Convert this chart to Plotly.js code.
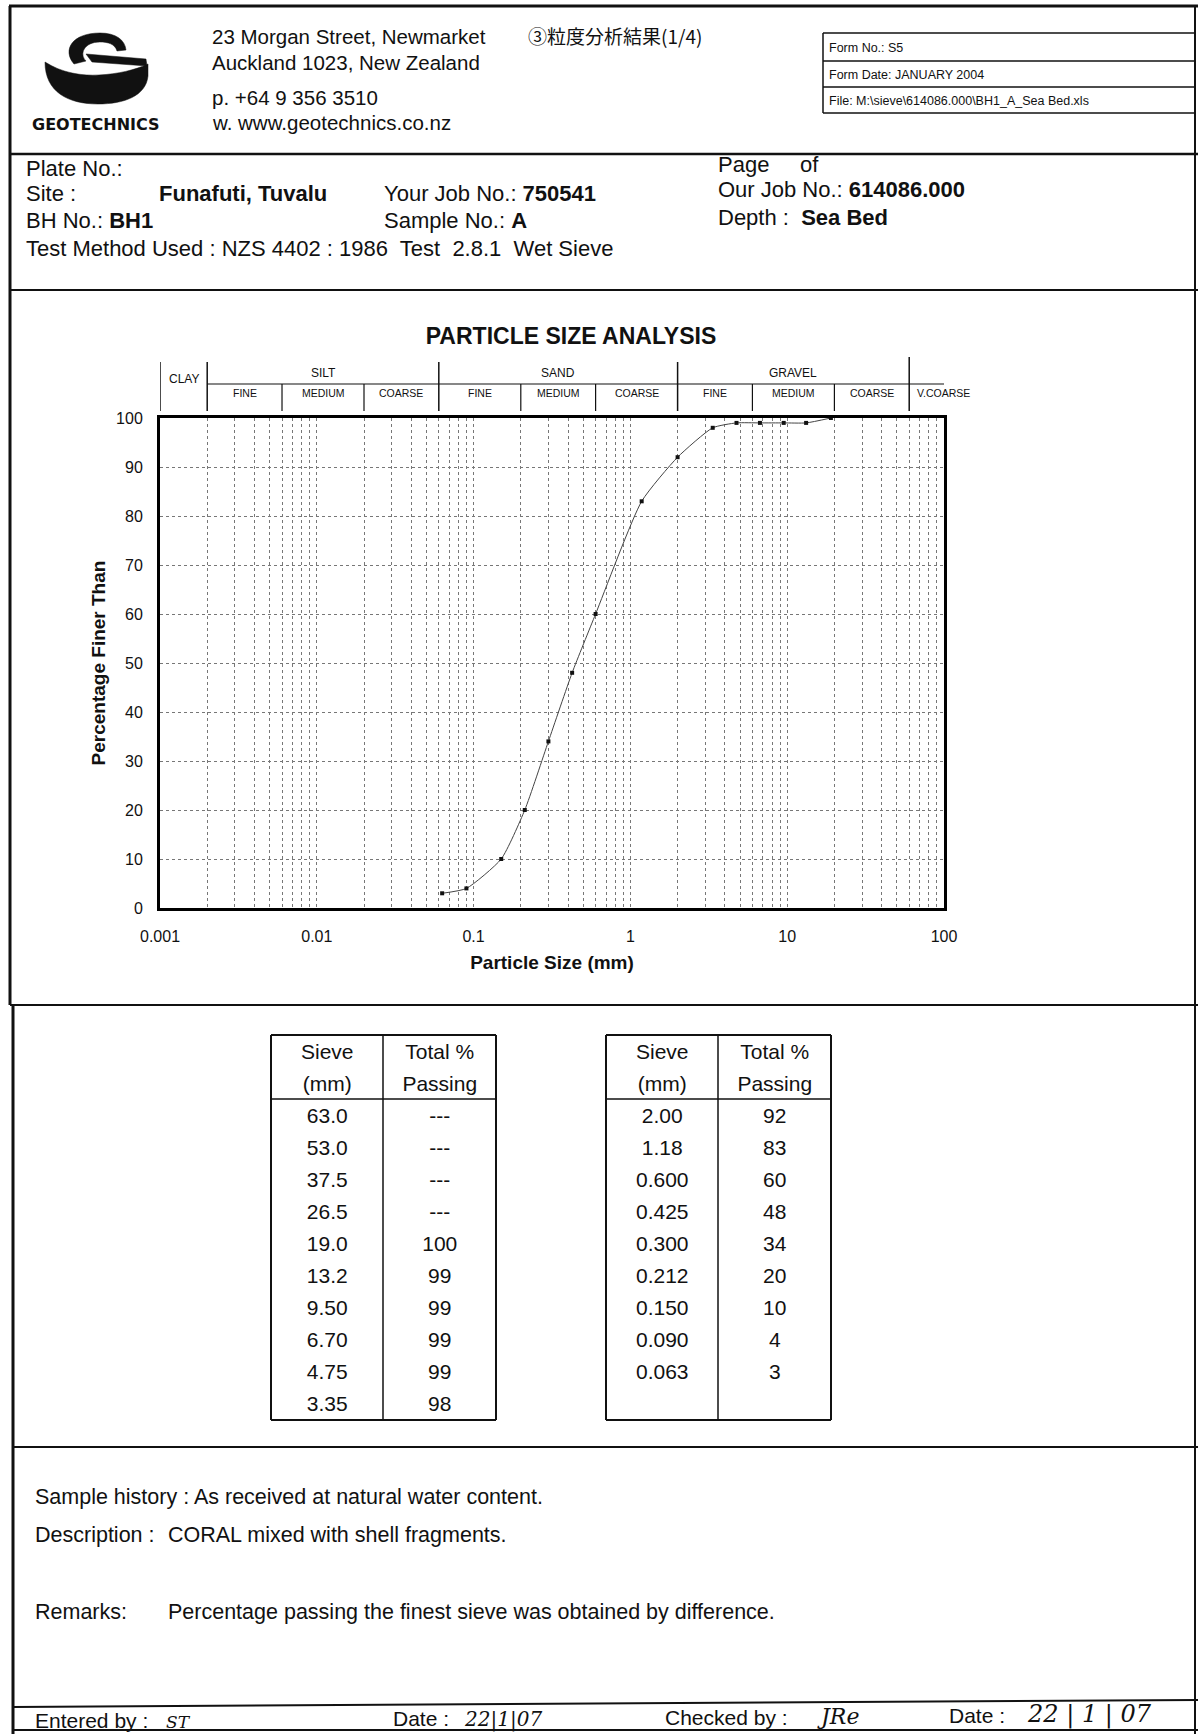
<!DOCTYPE html>
<html>
<head>
<meta charset="utf-8">
<script src="https://cdn.plot.ly/plotly-3.0.1.min.js"></script>
<style>
html,body{margin:0;padding:0;background:#fff;}
#chart{width:1198px;height:1734px;}
</style>
</head>
<body>
<div id="chart"></div>
<script>
// ---------------- DATA ----------------
const sieveLeft  = ['63.0','53.0','37.5','26.5','19.0','13.2','9.50','6.70','4.75','3.35'];
const passLeft   = ['---','---','---','---','100','99','99','99','99','98'];
const sieveRight = ['2.00','1.18','0.600','0.425','0.300','0.212','0.150','0.090','0.063'];
const passRight  = ['92','83','60','48','34','20','10','4','3'];

const xTickLabels = ['0.001','0.01','0.1','1','10','100'];
const yTickValues = [0,10,20,30,40,50,60,70,80,90,100];

const mainZoneNames = ['CLAY','SILT','SAND','GRAVEL'];
const mainZoneEdges = [0.001,0.002,0.06,2,60];
const subZoneNames  = ['FINE','MEDIUM','COARSE','FINE','MEDIUM','COARSE','FINE','MEDIUM','COARSE','V.COARSE'];
const subZoneEdges  = [0.002,0.006,0.02,0.06,0.2,0.6,2,6,20,60,200];

// ---------------- HELPERS ----------------
const W = 1198, H = 1734;
const FONT = 'Liberation Sans, Arial, Helvetica, sans-serif';
const px = x => x / W;
const py = y => 1 - y / H;
const INK = '#111';

// curve values derived from the tables
const curveX = [], curveY = [];
sieveLeft.concat(sieveRight).forEach((s, i) => {
  const p = passLeft.concat(passRight)[i];
  if (p !== '---') { curveX.push(parseFloat(s)); curveY.push(parseFloat(p)); }
});

// log-axis gridline positions (ticks) with labels only on decades
const tickVals = [], tickText = [];
for (let k = -3; k <= 1; k++) {
  for (let d = 1; d <= 9; d++) {
    tickVals.push(d * Math.pow(10, k));
    tickText.push(d === 1 ? xTickLabels[k + 3] : '');
  }
}
tickVals.push(100); tickText.push(xTickLabels[5]);

const shapes = [];
function hLine(x0, x1, y, w, y1) {
  shapes.push({type:'line', xref:'paper', yref:'paper', x0:px(x0), x1:px(x1), y0:py(y), y1:py(y1 === undefined ? y : y1),
    line:{color:INK, width:w}});
}
function vLine(x, y0, y1, w) {
  shapes.push({type:'line', xref:'paper', yref:'paper', x0:px(x), x1:px(x), y0:py(y0), y1:py(y1),
    line:{color:INK, width:w}});
}
function pathPx(s) {
  return s.replace(/(-?[\d.]+),(-?[\d.]+)/g, (m, a, b) => px(+a).toFixed(5) + ',' + py(+b).toFixed(5));
}
function blob(d) {
  shapes.push({type:'path', xref:'paper', yref:'paper', path:pathPx(d), fillcolor:'#111', line:{color:'#111', width:0.5}});
}

const annotations = [];
function T(x, y, text, o) {
  o = o || {};
  annotations.push({xref:'paper', yref:'paper', x:px(x), y:py(y), text:text, showarrow:false,
    xanchor:o.xa || 'left', yanchor:'middle',
    font:{family:o.family || FONT, size:o.size || 22, color:INK, style:o.style || 'normal'}});
}

// ---------------- PAGE FRAME ----------------
hLine(9, 1198, 6, 3);
vLine(10, 6, 1005, 3);
vLine(13, 1005, 1734, 3);
vLine(1195, 6, 1734, 2);
hLine(10, 1198, 154, 2.5);
hLine(10, 1198, 290, 2);
hLine(10, 1198, 1005, 2);
hLine(13, 1198, 1447, 2);
hLine(13, 1198, 1707, 2, 1700);
hLine(13, 1198, 1730, 2);

// form box
hLine(823, 1195, 33, 1.5);
hLine(823, 1195, 61, 1.5);
hLine(823, 1195, 87, 1.5);
hLine(823, 1195, 113, 1.5);
vLine(823, 33, 113, 1.5);

// logo (approximate)
blob('M 45,62 C 62,73 82,76 99,75 C 118,74 135,70 148,64 L 148,76 C 146,96 124,104 98,104 C 68,104 45,92 45,62 Z');
blob('M 74,64 C 62,50 72,33 100,33 C 116,33 125,40 126,50 L 117,51 C 115,44 108,42 100,42 C 84,42 79,54 86,61 Z');
blob('M 86,54 L 146,59 L 147,66 L 92,62 Z');

// ---------------- TEXT: HEADER ----------------
T(96, 124, '<b>GEOTECHNICS</b>', {xa:'center', size:16, family:'DejaVu Sans, sans-serif'});
T(210, 37, '23 Morgan Street, Newmarket', {size:20.5});
T(210, 62, 'Auckland 1023, New Zealand', {size:20.5});
T(210, 97, 'p. +64 9 356 3510', {size:20.5});
T(210, 122, 'w. www.geotechnics.co.nz', {size:20.5});
T(526, 35, '③粒度分析結果(1/4)', {size:19, family:'Noto Sans CJK JP, sans-serif'});
T(827, 48, 'Form No.: S5', {size:12.5});
T(827, 75, 'Form Date: JANUARY 2004', {size:12.5});
T(827, 101, 'File: M:\\sieve\\614086.000\\BH1_A_Sea Bed.xls', {size:12.5});

T(24, 168, 'Plate No.:');
T(24, 194, 'Site :');
T(157, 194, '<b>Funafuti, Tuvalu</b>');
T(382, 194, 'Your Job No.: <b>750541</b>');
T(24, 221, 'BH No.: <b>BH1</b>');
T(382, 221, 'Sample No.: <b>A</b>');
T(24, 248, 'Test Method Used : NZS 4402 : 1986\u00a0 Test\u00a0 2.8.1\u00a0 Wet Sieve');
T(716, 164, 'Page');
T(798, 164, 'of');
T(716, 190, 'Our Job No.: <b>614086.000</b>');
T(716, 217, 'Depth :\u00a0 <b>Sea Bed</b>');

// ---------------- CLASSIFICATION BAND ----------------
const lg = Math.log10;
mainZoneEdges.forEach((e, i) => {
  shapes.push({type:'line', xref:'x', yref:'paper', x0:e, x1:e,
    y0:py(411), y1:py(e === 60 ? 357 : 362), line:{color:INK, width:1.5}});
});
subZoneEdges.forEach((e, i) => {
  if (mainZoneEdges.indexOf(e) >= 0 || e === 200) return;
  shapes.push({type:'line', xref:'x', yref:'paper', x0:e, x1:e,
    y0:py(411), y1:py(384), line:{color:INK, width:1.2}});
});
shapes.push({type:'line', xref:'x', yref:'paper', x0:0.002, x1:100, y0:py(384), y1:py(384), line:{color:INK, width:1.2}});

mainZoneNames.forEach((n, i) => {
  const a = mainZoneEdges[i], b = mainZoneEdges[i + 1];
  annotations.push({xref:'x', yref:'paper', x:(lg(a) + lg(b)) / 2, y:py(n === 'CLAY' ? 379 : 373),
    text:n, showarrow:false, xanchor:'center', yanchor:'middle', font:{family:FONT, size:12, color:INK}});
});
subZoneNames.forEach((n, i) => {
  const a = subZoneEdges[i], b = subZoneEdges[i + 1];
  annotations.push({xref:'x', yref:'paper', x:(lg(a) + lg(b)) / 2 - (n === 'V.COARSE' ? 0.04 : 0), y:py(393),
    text:n, showarrow:false, xanchor:'center', yanchor:'middle', font:{family:FONT, size:10.5, color:INK}});
});

// ---------------- TABLE BORDERS ----------------
function tableFrame(l, d, r) {
  hLine(l, r, 1035, 2);
  hLine(l, r, 1099, 1.5);
  hLine(l, r, 1420, 2);
  vLine(l, 1035, 1420, 2);
  vLine(d, 1035, 1420, 1.5);
  vLine(r, 1035, 1420, 2);
}
tableFrame(271, 383, 496);
tableFrame(606, 718, 831);

// ---------------- TEXT: BOTTOM ----------------
T(33, 1497, 'Sample history : As received at natural water content.', {size:21.5});
T(33, 1535, 'Description :', {size:21.5});
T(166, 1535, 'CORAL mixed with shell fragments.', {size:21.5});
T(33, 1612, 'Remarks:', {size:21.5});
T(166, 1612, 'Percentage passing the finest sieve was obtained by difference.', {size:21.5});
T(33, 1720, 'Entered by :', {size:21});
T(164, 1722, 'ST', {size:17, style:'italic', family:'DejaVu Serif, serif'});
T(391, 1718, 'Date :', {size:21});
T(462, 1719, '22|1|07', {size:20, style:'italic', family:'DejaVu Serif, serif'});
T(663, 1717, 'Checked by :', {size:21});
T(815, 1716, 'JRe', {size:22, style:'italic', family:'DejaVu Serif, serif'});
T(947, 1715, 'Date :', {size:21});
T(1025, 1714, '22 | 1 | 07', {size:24, style:'italic', family:'DejaVu Serif, serif'});

// ---------------- TRACES ----------------
const cellFont = {family:FONT, size:21, color:INK};
function tableTrace(col1, col2, l, r) {
  return {
    type:'table',
    domain:{x:[px(l), px(r)], y:[py(1420), py(1035)]},
    columnwidth:[1, 1],
    header:{values:[['Sieve', '(mm)'], ['Total %', 'Passing']], height:32, align:'center',
      line:{color:'rgba(0,0,0,0)', width:0}, fill:{color:'rgba(0,0,0,0)'}, font:cellFont},
    cells:{values:[col1, col2], height:32, align:'center',
      line:{color:'rgba(0,0,0,0)', width:0}, fill:{color:'rgba(0,0,0,0)'}, font:cellFont}
  };
}

const curve = {
  type:'scatter', x:curveX, y:curveY, mode:'lines+markers',
  line:{color:'#444', width:1, shape:'spline', smoothing:0.55},
  marker:{symbol:'square', size:4, color:'#111'},
  hoverinfo:'x+y', showlegend:false
};

const axisCommon = {
  showgrid:true, gridcolor:'#777', griddash:'dot', gridwidth:1,
  showline:true, mirror:true, linecolor:'#000', linewidth:3,
  zeroline:false, ticks:'outside', tickcolor:'rgba(0,0,0,0)',
  tickfont:{family:FONT, size:16, color:INK}, fixedrange:true
};

const layout = {
  width:W, height:H,
  margin:{l:0, r:0, t:0, b:0, autoexpand:false},
  paper_bgcolor:'#fff', plot_bgcolor:'#fff',
  showlegend:false,
  title:{text:'<b>PARTICLE SIZE ANALYSIS</b>', x:px(571), y:py(336), xref:'paper', yref:'paper',
    xanchor:'center', yanchor:'middle', font:{family:FONT, size:23, color:INK}},
  xaxis:Object.assign({}, axisCommon, {
    type:'log', range:[-3, 2], domain:[px(160), px(944)], anchor:'y',
    tickmode:'array', tickvals:tickVals, ticktext:tickText, ticklen:12,
    title:{text:'<b>Particle Size (mm)</b>', font:{family:FONT, size:19, color:INK}, standoff:12}
  }),
  yaxis:Object.assign({}, axisCommon, {
    range:[0, 100], domain:[py(908), py(418)], anchor:'x',
    tickmode:'array', tickvals:yTickValues, ticklen:11,
    title:{text:'<b>Percentage Finer Than</b>', font:{family:FONT, size:19, color:INK}, standoff:6}
  }),
  shapes:shapes,
  annotations:annotations
};

Plotly.newPlot('chart', [
  curve,
  tableTrace(sieveLeft, passLeft, 271, 496),
  tableTrace(sieveRight, passRight, 606, 831)
], layout, {staticPlot:true, displayModeBar:false});
</script>
</body>
</html>
